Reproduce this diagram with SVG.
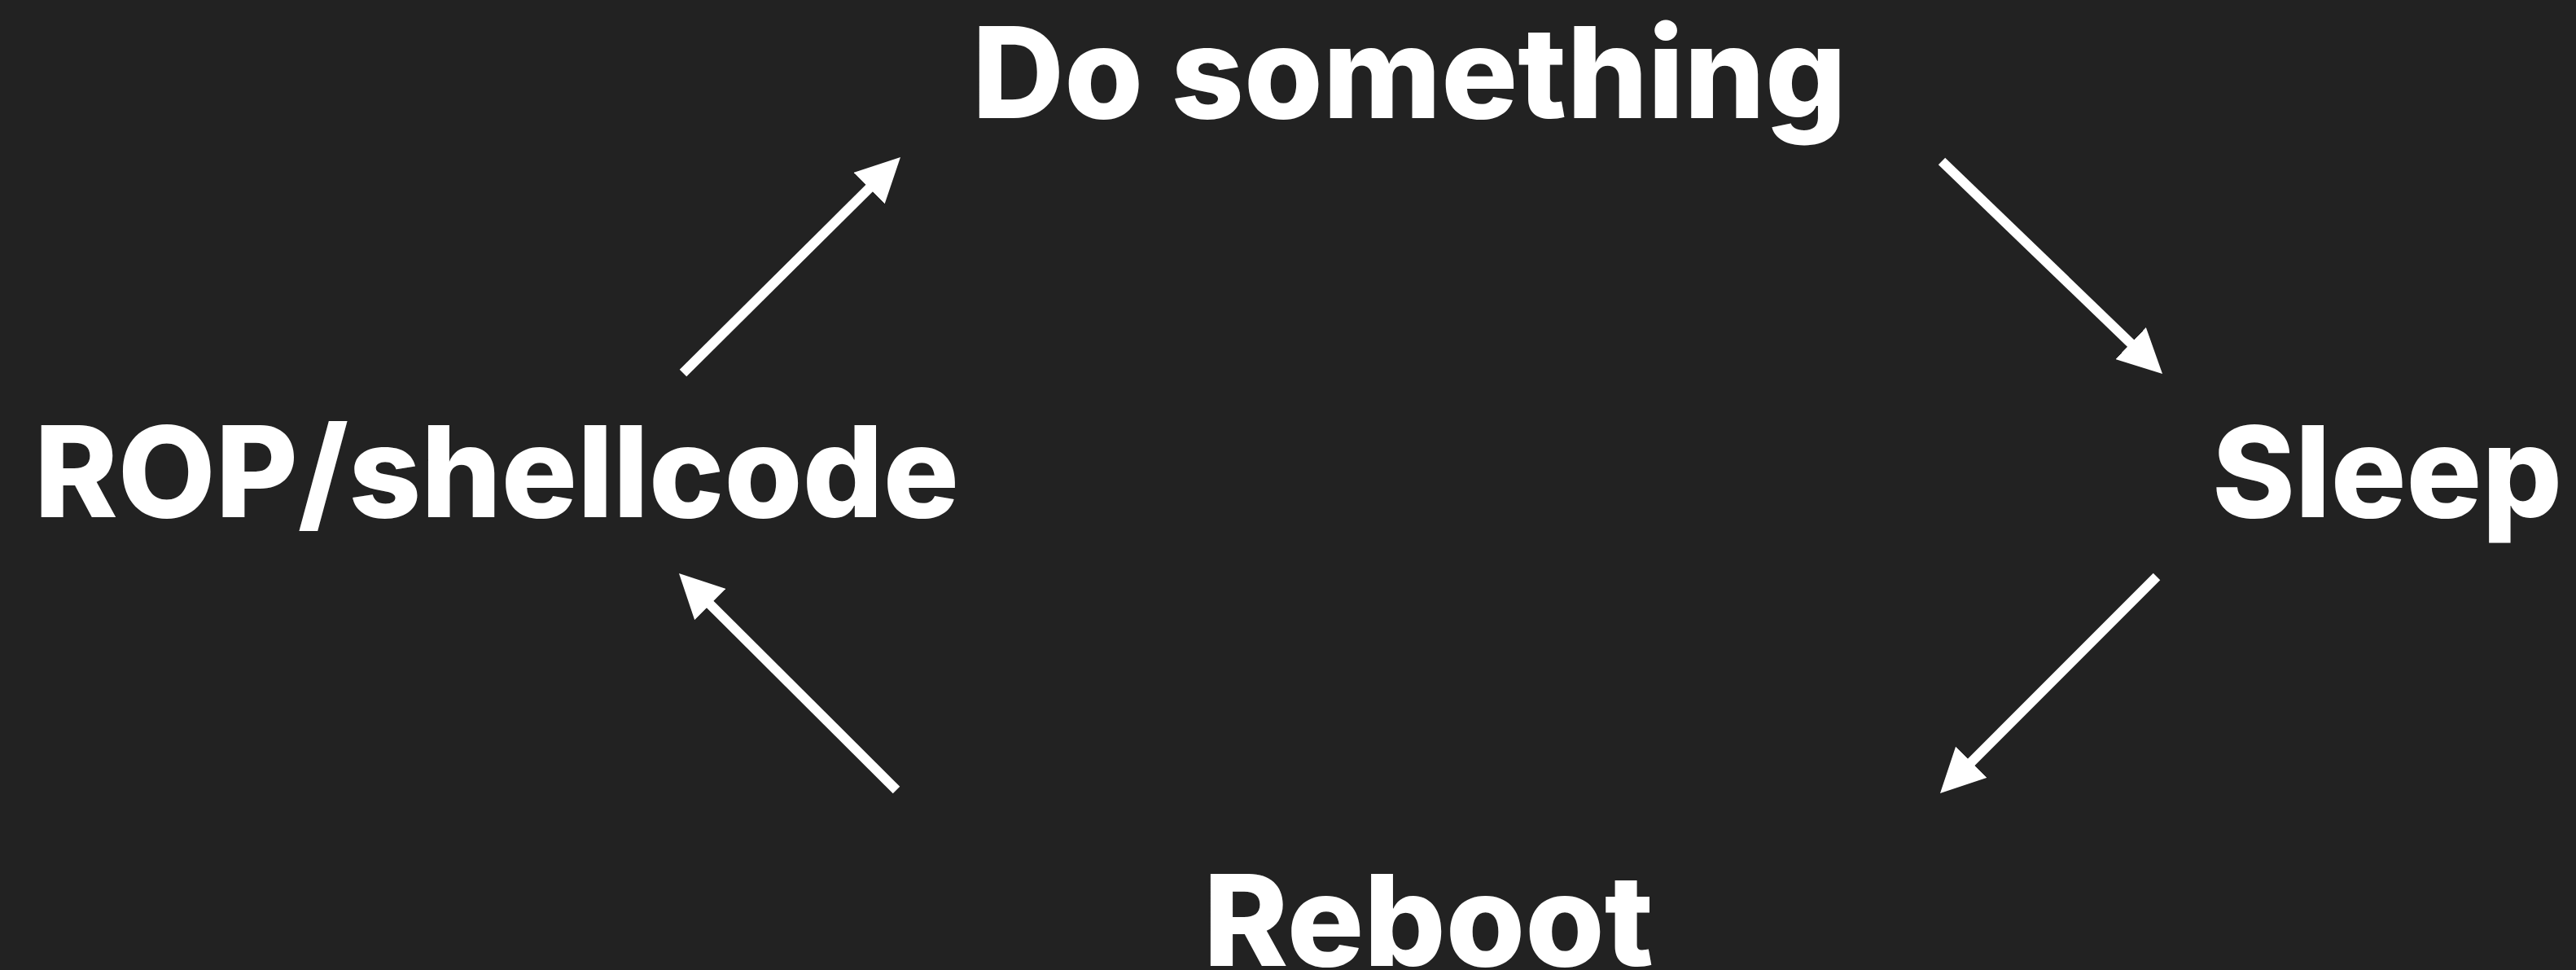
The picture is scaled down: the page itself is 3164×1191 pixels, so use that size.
<svg xmlns="http://www.w3.org/2000/svg" width="3164" height="1191" viewBox="0 0 3164 1191">
  <style>
    .label { font-family: Inter, "Noto Sans", "Liberation Sans", sans-serif; font-weight: 800; font-size: 155px; fill: #ffffff; }
    .conn { stroke: #ffffff; stroke-width: 12; fill: none; marker-end: url(#head); }
  </style>
  <defs>
    <marker id="head" markerUnits="userSpaceOnUse" viewBox="0 0 54 54" markerWidth="54" markerHeight="54" refX="14" refY="27" orient="auto">
      <path d="M0,0 L54,27 L0,54 z" fill="#ffffff"/>
    </marker>
  </defs>
  <rect width="3164" height="1191" fill="#222222"/>
  <g id="connectors">
    <line class="conn" x1="839" y1="458" x2="1077.6" y2="221.2"/>
    <line class="conn" x1="2385" y1="198" x2="2627.2" y2="431.2"/>
    <line class="conn" x1="2649" y1="708" x2="2411.3" y2="945.7"/>
    <line class="conn" x1="1101" y1="970" x2="862.3" y2="732.2"/>
  </g>
  <g id="node-do-something">
    <text class="label" x="1194" y="145" textLength="1074" lengthAdjust="spacingAndGlyphs">Do something</text>
  </g>
  <g id="node-sleep">
    <text class="label" x="2717" y="635" textLength="430" lengthAdjust="spacingAndGlyphs">Sleep</text>
  </g>
  <g id="node-reboot">
    <text class="label" x="1478" y="1186" textLength="553" lengthAdjust="spacingAndGlyphs">Reboot</text>
  </g>
  <g id="node-rop-shellcode">
    <text class="label" x="42" y="635" textLength="1136" lengthAdjust="spacingAndGlyphs">ROP/shellcode</text>
  </g>
</svg>
